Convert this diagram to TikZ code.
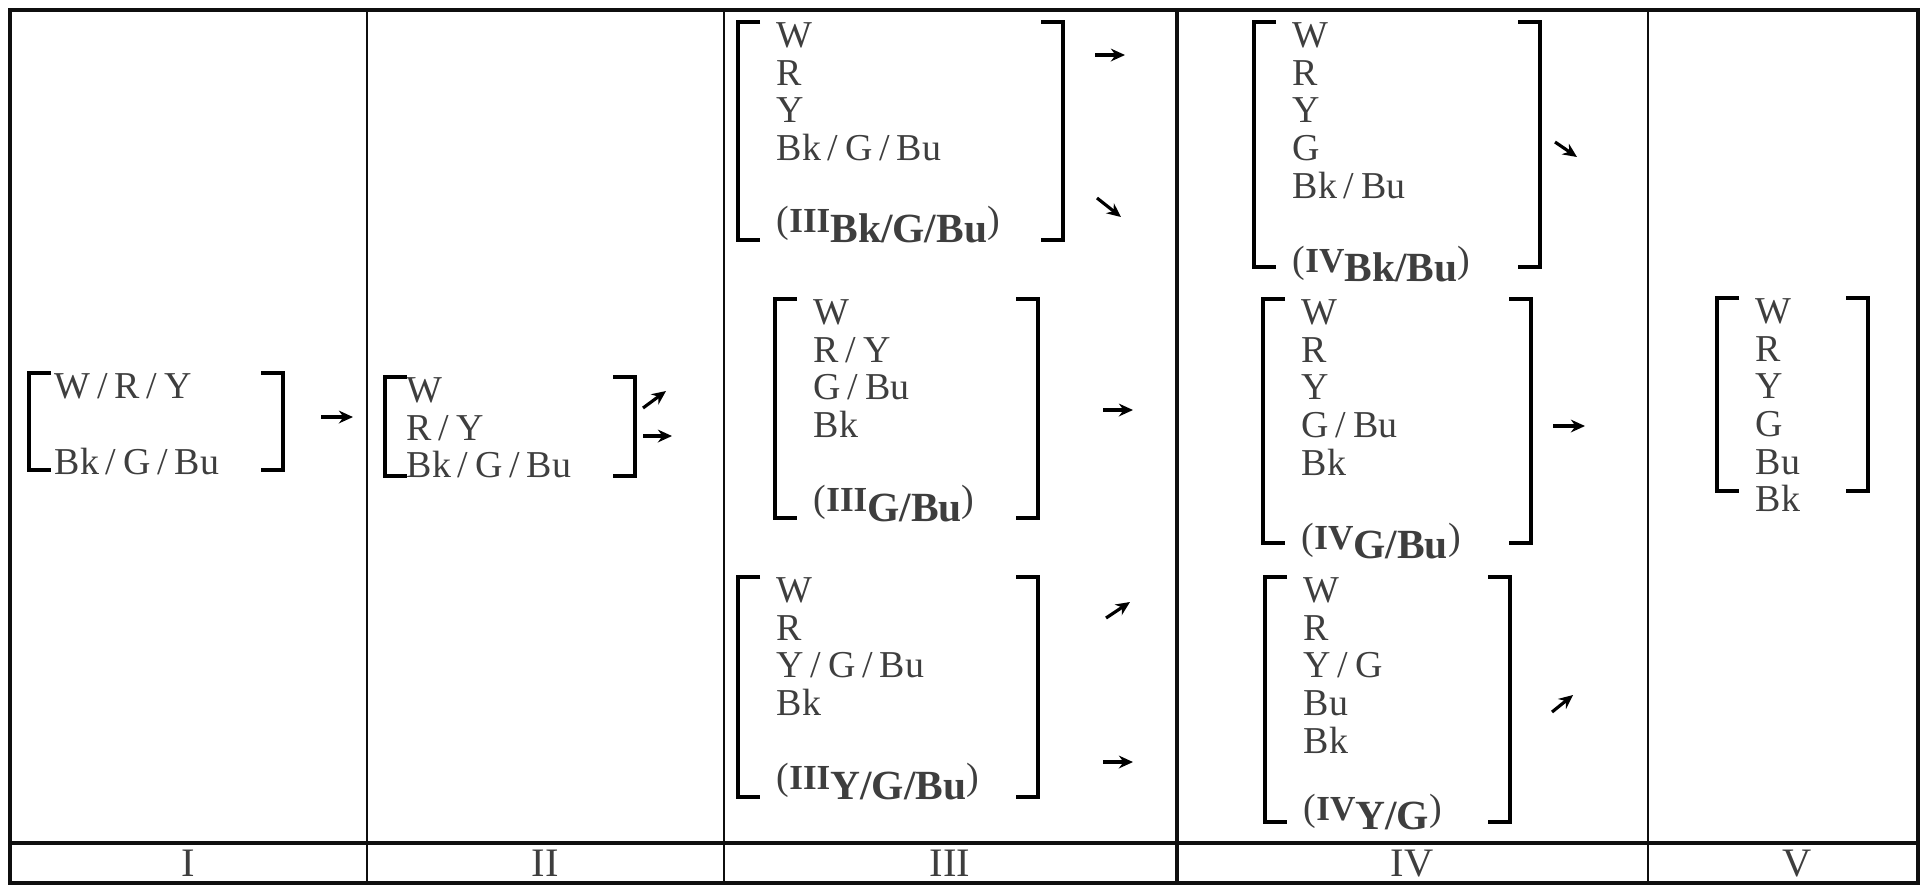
\documentclass[tikz,border=0pt]{standalone}
\usepackage{fontspec}
\setmainfont{Liberation Serif}
\usetikzlibrary{arrows.meta}
\definecolor{wiretext}{RGB}{62,62,62}
\definecolor{wirerule}{RGB}{15,15,15}
\newcommand{\ws}{\kern0.18em/\kern0.18em}
\newcommand{\stagelabel}[2]{(\textbf{\fontsize{10}{10}\selectfont #1}\raisebox{-0.25em}{\fontsize{11.8}{11.8}\selectfont\bfseries #2})}
% group of wire colours with square brackets: [offset]{name}{left}{right}{top}{bottom}{text}
\newcommand{\wiregroup}[7][38]{%
  \node[entry] (#2) at ({#3+#1},#5) {#7};
  \draw[brk] ({#3+22},#5) -- (#3,#5) -- (#3,#6) -- ({#3+22},#6);
  \draw[brk] ({#4-22},#5) -- (#4,#5) -- (#4,#6) -- ({#4-22},#6);
}

\begin{document}
\begin{tikzpicture}[
    x=0.01cm, y=-0.01cm,
    entry/.style={anchor=north west, inner sep=0pt, align=left, text=wiretext, font=\fontsize{10.8}{10.7}\selectfont},
    stagenum/.style={anchor=base, inner sep=0pt, text=wiretext, font=\fontsize{11.5}{11.5}\selectfont},
    brk/.style={draw=black, line width=1.4pt},
    frame/.style={draw=wirerule, line width=1.2pt},
    cellrule/.style={draw=wirerule, line width=0.55pt},
    arr/.style={-{Stealth[length=4pt,width=3.6pt]}, line width=0.9pt, draw=black}
  ]
    \useasboundingbox (0,0) rectangle (1928,887);

    % table
    \draw[frame] (10,10) rectangle (1918,883);
    \draw[frame] (10,843) -- (1918,843);
    \foreach \x in {367,724,1648}
      \draw[cellrule] (\x,10) -- (\x,883);
    \draw[frame] (1177,10) -- (1177,883);

    % stage I and II
    \wiregroup[25]{g1}{29}{283}{373}{470}{W\ws R\ws Y\\[10.8pt]Bk\ws G\ws Bu}
    \wiregroup[21]{g2}{385}{635}{377}{476}{W\\R\ws Y\\Bk\ws G\ws Bu}

    % stage III
    \wiregroup{g3a}{738}{1063}{22}{240}{W\\R\\Y\\Bk\ws G\ws Bu\\[9.8pt]\stagelabel{III}{Bk/G/Bu}}
    \wiregroup{g3b}{775}{1038}{299}{518}{W\\R\ws Y\\G\ws Bu\\Bk\\[10.4pt]\stagelabel{III}{G/Bu}}
    \wiregroup{g3c}{738}{1038}{577}{797}{W\\R\\Y\ws G\ws Bu\\Bk\\[10.4pt]\stagelabel{III}{Y/G/Bu}}

    % stage IV
    \wiregroup{g4a}{1254}{1540}{22}{267}{W\\R\\Y\\G\\Bk\ws Bu\\[10.4pt]\stagelabel{IV}{Bk/Bu}}
    \wiregroup{g4b}{1263}{1531}{299}{543}{W\\R\\Y\\G\ws Bu\\Bk\\[10.4pt]\stagelabel{IV}{G/Bu}}
    \wiregroup{g4c}{1265}{1510}{577}{822}{W\\R\\Y\ws G\\Bu\\Bk\\[8.4pt]\stagelabel{IV}{Y/G}}

    % stage V
    \wiregroup{g5}{1717}{1868}{298}{491}{W\\R\\Y\\G\\Bu\\Bk}

    % flow arrows
    \foreach \n/\x/\y/\dx/\dy in {a1/321/417/32/0, a2/643/408/23/-17, a3/643/436/29/0,
        a4/1095/55/30/0, a5/1097/198/24/19, a6/1103/410/30/0, a7/1106/618/24/-16,
        a8/1103/762/30/0, a9/1555/142/22/15, a10/1553/426/32/0, a11/1552/712/21/-17} {
      \coordinate (\n) at (\x,\y);
      \draw[arr] (\n) -- ++(\dx,\dy);
    }

    % stage numbers
    \foreach \lab/\x in {I/188,II/545,III/950,IV/1412,V/1797}
      \node[stagenum] (n\lab) at (\x,876) {\lab};
  \end{tikzpicture}
\end{document}
